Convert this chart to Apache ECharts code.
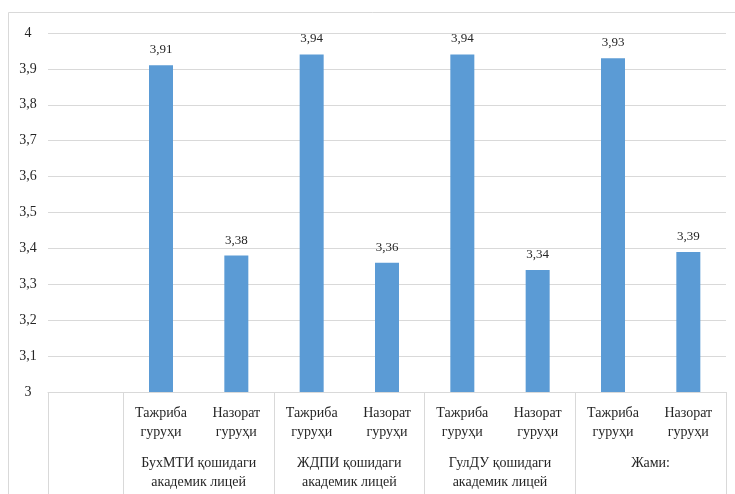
<!DOCTYPE html>
<html>
<head>
<meta charset="utf-8">
<script src="https://cdn.jsdelivr.net/npm/echarts@6/dist/echarts.min.js"></script>
<style>
  html, body { margin: 0; padding: 0; background: #fff; }
  #chart { width: 735px; height: 494px; }
</style>
</head>
<body>
<div id="chart"></div>
<script>
// Sub-categories (first slot is intentionally empty)
const subCategories = ['', 'Тажриба\nгуруҳи', 'Назорат\nгуруҳи', 'Тажриба\nгуруҳи', 'Назорат\nгуруҳи',
  'Тажриба\nгуруҳи', 'Назорат\nгуруҳи', 'Тажриба\nгуруҳи', 'Назорат\nгуруҳи'];
// Group labels and their centre positions on the 0..9 band scale
const groupNames = ['БухМТИ қошидаги\nакадемик лицей', 'ЖДПИ қошидаги\nакадемик лицей',
  'ГулДУ қошидаги\nакадемик лицей', 'Жами:'];
const groupCentres = [2, 4, 6, 8];
const groupBounds = [0, 1, 3, 5, 7, 9];
// Mean scores
const scores = [null, 3.91, 3.38, 3.94, 3.36, 3.94, 3.34, 3.93, 3.39];
// Y-axis
const yMin = 3, yMax = 4, yStep = 0.1;

const fontFamily = '"Liberation Serif", "DejaVu Serif", serif';
const textColor = '#262626';
const lineColor = '#d9d9d9';
const comma = v => String(v).replace('.', ',');

const chart = echarts.init(document.getElementById('chart'));
chart.setOption({
  animation: false,
  textStyle: { fontFamily: fontFamily },
  graphic: [{
    type: 'rect',
    shape: { x: 8.5, y: 12.5, width: 740, height: 500 },
    style: { fill: 'none', stroke: lineColor, lineWidth: 1 },
    silent: true
  }],
  grid: { left: 48, right: 9, top: 33, bottom: 102 },
  xAxis: [{
    type: 'category',
    data: subCategories,
    boundaryGap: true,
    axisLine: { show: true, lineStyle: { color: lineColor } },
    axisTick: { show: false },
    axisLabel: {
      interval: 0,
      color: textColor,
      fontFamily: fontFamily,
      fontSize: 14,
      lineHeight: 19,
      margin: 12
    }
  }, {
    type: 'value',
    position: 'bottom',
    min: 0,
    max: 9,
    axisLine: { show: false },
    splitLine: { show: false },
    axisTick: {
      show: true,
      customValues: groupBounds,
      length: 110,
      lineStyle: { color: lineColor }
    },
    axisLabel: {
      show: true,
      customValues: groupCentres,
      formatter: v => groupNames[groupCentres.indexOf(v)] || '',
      color: textColor,
      fontFamily: fontFamily,
      fontSize: 14,
      lineHeight: 19,
      margin: 62
    }
  }],
  yAxis: {
    type: 'value',
    min: yMin,
    max: yMax,
    interval: yStep,
    axisLine: { show: false },
    axisTick: { show: false },
    splitLine: { lineStyle: { color: lineColor, width: 1 } },
    axisLabel: {
      color: textColor,
      fontFamily: fontFamily,
      fontSize: 14,
      align: 'center',
      margin: 20,
      formatter: v => comma(Math.round(v * 10) / 10)
    }
  },
  series: [{
    type: 'bar',
    xAxisIndex: 0,
    data: scores,
    barWidth: 24,
    itemStyle: { color: '#5b9bd5' },
    label: {
      show: true,
      position: 'top',
      distance: 9,
      color: textColor,
      fontFamily: fontFamily,
      fontSize: 13,
      formatter: p => comma(p.value)
    }
  }]
});
</script>
</body>
</html>
